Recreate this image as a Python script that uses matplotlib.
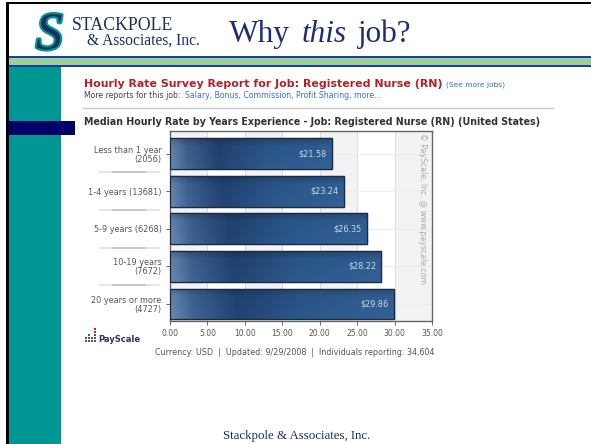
import numpy as np
import matplotlib.pyplot as plt
import matplotlib.patheffects as pe
from matplotlib.patches import Rectangle
from matplotlib.transforms import blended_transform_factory

# chart data
categories = ['Less than 1 year\n(2056)', '1-4 years (13681)', '5-9 years (6268)',
              '10-19 years\n(7672)', '20 years or more\n(4727)']
hourly_rate = [21.58, 23.24, 26.35, 28.22, 29.86]
x_ticks = [0, 5, 10, 15, 20, 25, 30, 35]

W, H = 591, 444
fig = plt.figure(figsize=(W / 100, H / 100), dpi=100)
fig.patch.set_facecolor('white')

# ---- slide background (pixel coordinates, y downward) ----
bg = fig.add_axes([0, 0, 1, 1])
bg.set_xlim(0, W)
bg.set_ylim(H, 0)
bg.axis('off')

navy = '#1f2a7a'
teal = '#009693'
bg.add_patch(Rectangle((6, 2), W, 2.5, color='black', lw=0))
bg.add_patch(Rectangle((6, 2), 3, H, color='black', lw=0))
bg.add_patch(Rectangle((9, 56), W, 2, color='#1a3f9a', lw=0))
bg.add_patch(Rectangle((9, 58), W, 7.5, color='#9dd09a', lw=0))
bg.add_patch(Rectangle((9, 65.5), W, 2, color='#1a3f9a', lw=0))
bg.add_patch(Rectangle((9, 67.5), 52, H, color=teal, lw=0))
bg.add_patch(Rectangle((9, 121), 66, 14, color='#000066', lw=0))

# header logo + title
bg.text(36, 49, 'S', fontsize=38, family='Liberation Serif', style='italic',
        color='#1b2f5e', va='baseline',
        path_effects=[pe.withStroke(linewidth=3, foreground=teal)])
bg.text(72, 29.5, 'STACKPOLE', fontsize=12.8, family='Liberation Serif',
        color='#1b2f5e', va='baseline')
bg.text(87, 45, '& Associates, Inc.', fontsize=11.2, family='Liberation Serif',
        color='#1b2f5e', va='baseline')
bg.text(229, 42, 'Why', fontsize=22.5, family='Liberation Serif', color=navy, va='baseline')
bg.text(302, 42, 'this', fontsize=22.5, family='Liberation Serif', style='italic',
        color=navy, va='baseline')
bg.text(358, 42, 'job?', fontsize=22.5, family='Liberation Serif', color=navy, va='baseline')

# report headings
bg.text(84, 87, 'Hourly Rate Survey Report for Job: Registered Nurse (RN)',
        fontsize=7.9, fontweight='bold', color='#b0202a', va='baseline')
bg.text(446, 87, '(See more jobs)', fontsize=5.4, color='#3a6fd0', va='baseline')
bg.text(84, 98, 'More reports for this job:', fontsize=5.6, color='#444444', va='baseline')
bg.text(185, 98, 'Salary, Bonus, Commission, Profit Sharing, more...', fontsize=5.6,
        color='#3a6fd0', va='baseline')
bg.plot([83, 553], [108, 108], color='#c8c8c8', lw=1)
bg.text(84, 125, 'Median Hourly Rate by Years Experience - Job: Registered Nurse (RN) (United States)',
        fontsize=6.85, fontweight='bold', color='#333333', va='baseline')

# PayScale logo
for dx, dy in [(0, 0), (3, 0), (6, 0), (9, 0), (0, -3), (3, -3), (6, -3),
               (9, -3), (3, -6), (9, -6), (9, -9), (9, -12)]:
    bg.add_patch(Rectangle((85 + dx, 340 + dy), 1.8, 1.8,
                           color='#cc2222' if dy <= -9 else '#555555', lw=0))
bg.text(98, 342, 'PayScale', fontsize=6, fontweight='bold', color='#333355', va='baseline')

bg.text(295, 355, 'Currency: USD  |  Updated: 9/29/2008  |  Individuals reporting: 34,604',
        fontsize=5.8, color='#555555', ha='center', va='baseline')
bg.text(297, 439, 'Stackpole & Associates, Inc.', fontsize=9.3, family='Liberation Serif',
        color='#1b2f5e', ha='center', va='baseline')

# ---- bar chart ----
ax = fig.add_axes([170 / W, 1 - 321 / H, 262 / W, 190 / H])
ax.set_facecolor('white')
y = np.arange(len(categories))
bar_h = 0.82

for lo in range(0, 35, 10):
    ax.axvspan(lo, lo + 5, color='#f3f3f3', lw=0, zorder=0)
for xv in x_ticks[1:-1]:
    ax.axvline(xv, color='#dddddd', lw=0.8, zorder=0.5)
for yv in y:
    ax.axhline(yv, color='#eeeeee', lw=0.8, zorder=0.5)

bars = ax.barh(y, hourly_rate, height=bar_h, color='#2d5a8f',
               edgecolor='#1a2a48', lw=0.9, zorder=2)

# gradient fill, clipped to each bar
gx = np.linspace(0, 1, 200)
stops_x = [0, 0.1, 0.3, 0.6, 1]
stops_c = np.array([[100, 130, 170], [60, 95, 140], [32, 64, 110],
                    [42, 84, 134], [48, 92, 142]]) / 255
row = np.stack([np.interp(gx, stops_x, stops_c[:, k]) for k in range(3)], axis=1)
gy = np.linspace(0, 1, 40)
vert = np.interp(gy, [0, 0.25, 1], [0.8, 1.0, 1.06])
img = np.clip(row[None, :, :] * vert[:, None, None], 0, 1)
for b, val in zip(bars, hourly_rate):
    yc = b.get_y()
    im = ax.imshow(img, extent=(0, val, yc + bar_h, yc), aspect='auto', zorder=2.5,
                   origin='upper')
    im.set_clip_path(b)
    ax.add_patch(Rectangle((0, yc), val, bar_h, fill=False, ec='#1a2a48', lw=0.9, zorder=3))
    ax.text(val - 0.7, yc + bar_h / 2, f'${val:.2f}', ha='right', va='center',
            fontsize=5.9, color='#c9d6e8', zorder=4)

ax.set_xlim(0, 35)
ax.set_ylim(len(categories) - 0.55, -0.6)
ax.set_xticks(x_ticks)
ax.set_xticklabels([f'{v:.2f}' for v in x_ticks], fontsize=5.5, color='#555555')
ax.set_yticks(y)
ax.set_yticklabels(categories, fontsize=5.9, color='#555555', linespacing=1.0)
ax.tick_params(axis='both', length=3, width=0.7, color='#666666', pad=3)
for s in ax.spines.values():
    s.set_color('#666666')
    s.set_linewidth(1)

# faint separators between row labels
tr = blended_transform_factory(ax.transAxes, ax.transData)
for yb in y[:-1] + 0.5:
    ax.plot([-0.27, -0.04], [yb, yb], transform=tr, color='#e2e2e2', lw=1.2,
            clip_on=False, solid_capstyle='butt')
    ax.plot([-0.22, -0.09], [yb, yb], transform=tr, color='#c4c4c4', lw=1.2,
            clip_on=False, solid_capstyle='butt')

ax.text(33.7, -0.55, '\u00a9 PayScale, Inc. @ www.payscale.com', rotation=270,
        fontsize=5.6, color='#aaaaaa', ha='center', va='top', zorder=4)

fig.savefig('out.png', dpi=100)
